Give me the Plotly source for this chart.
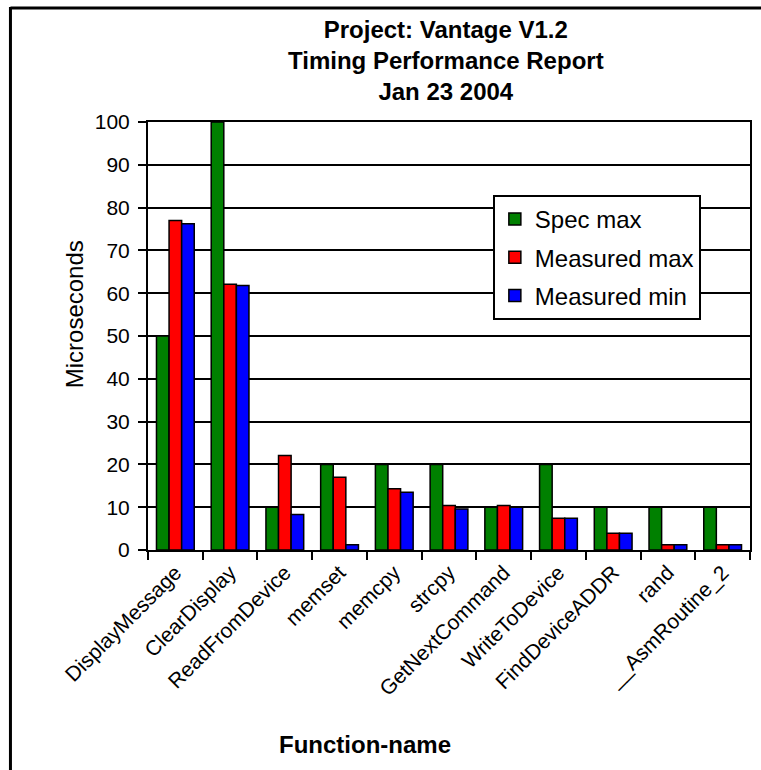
import plotly.graph_objects as go

# Timing data (microseconds) per function
functions = ["DisplayMessage", "ClearDisplay", "ReadFromDevice", "memset", "memcpy",
             "strcpy", "GetNextCommand", "WriteToDevice", "FindDeviceADDR", "rand",
             "__AsmRoutine_2"]
spec_max = [50, 100, 10, 20, 20, 20, 10, 20, 10, 10, 10]
measured_max = [77, 62.1, 22.1, 17.0, 14.3, 10.4, 10.4, 7.4, 3.9, 1.25, 1.25]
measured_min = [76.2, 61.8, 8.3, 1.25, 13.5, 9.6, 10.0, 7.4, 3.9, 1.25, 1.25]

series_names = ["Spec max", "Measured max", "Measured min"]
series_colors = ["#008000", "#FF0000", "#0000FF"]
y_ticks = list(range(0, 101, 10))

W, H = 761, 770
L, R, T, B = 148, 9, 122, 220
PW, PH = W - L - R, H - T - B
FONT = "Liberation Sans, Arial, sans-serif"


def px_x(px):
    return (px - L) / PW


def px_y(py):
    return (H - B - py) / PH


fig = go.Figure()
for i, (name, vals, col) in enumerate(zip(series_names,
                                          [spec_max, measured_max, measured_min],
                                          series_colors)):
    fig.add_trace(go.Bar(
        x=functions, y=vals, name=name, legendgroup=f"g{i}",
        marker=dict(color=col, line=dict(color="black", width=1.5)),
    ))

fig.update_layout(
    width=W, height=H,
    margin=dict(l=L, r=R, t=T, b=B, pad=0),
    paper_bgcolor="white", plot_bgcolor="white",
    barmode="group", bargap=0.31, bargroupgap=0,
    font=dict(family=FONT, color="black", size=21),
    showlegend=True,
    legend=dict(
        x=px_x(494), y=px_y(195), xanchor="left", yanchor="top",
        bgcolor="white", bordercolor="black", borderwidth=2,
        font=dict(family=FONT, size=24, color="black"),
        tracegroupgap=4, itemwidth=30,
    ),
    xaxis=dict(
        type="category", tickangle=-45, tickson="boundaries",
        ticks="outside", ticklen=8, tickcolor="black", tickwidth=1.5,
        showline=True, linecolor="black", linewidth=2, mirror=True,
        showgrid=False, tickfont=dict(family=FONT, size=21, color="black"),
    ),
    yaxis=dict(
        range=[0, 100], tickvals=y_ticks, ticks="outside", ticklen=8,
        tickcolor="black", tickwidth=1.5,
        showline=True, linecolor="black", linewidth=2, mirror=True,
        showgrid=True, gridcolor="black", gridwidth=1.5,
        zeroline=False, ticklabelstandoff=4,
        tickfont=dict(family=FONT, size=21, color="black"),
    ),
    annotations=[
        dict(text="Project: Vantage V1.2<br>Timing Performance Report<br>Jan 23 2004",
             xref="paper", yref="paper", x=px_x(447), y=px_y(14),
             xanchor="center", yanchor="top", showarrow=False,
             font=dict(family=FONT, size=24, weight="bold", color="black")),
        dict(text="Microseconds", textangle=-90,
             xref="paper", yref="paper", x=px_x(74), y=px_y(314),
             xanchor="center", yanchor="middle", showarrow=False,
             font=dict(family=FONT, size=24, color="black")),
        dict(text="Function-name",
             xref="paper", yref="paper", x=px_x(366), y=px_y(744),
             xanchor="center", yanchor="middle", showarrow=False,
             font=dict(family=FONT, size=24, weight="bold", color="black")),
    ],
    shapes=[
        # outer frame (top and left edges)
        dict(type="line", xref="paper", yref="paper",
             x0=px_x(10), x1=px_x(W + 5), y0=px_y(8), y1=px_y(8),
             line=dict(color="black", width=3)),
        dict(type="line", xref="paper", yref="paper",
             x0=px_x(10), x1=px_x(10), y0=px_y(7), y1=px_y(H + 5),
             line=dict(color="black", width=3)),
    ],
)

fig.write_html("out.html")
